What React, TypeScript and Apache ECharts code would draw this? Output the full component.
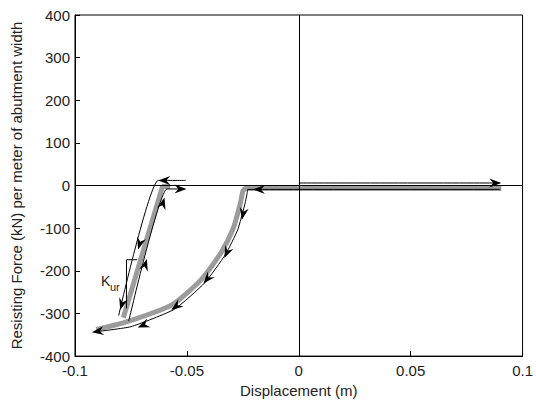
import React, { useEffect, useRef } from "react";
import * as echarts from "echarts";

// Gray backbone curve (displacement m, force kN/m)
const grayBackboneX = [0.0905, -0.0238, -0.0249, -0.0263, -0.0294, -0.0347, -0.0435, -0.0567, -0.077, -0.0905];
const grayBackboneY = [-7, -7, -12, -46, -102, -157, -220, -280, -320, -338];
// Gray unload/reload branch
const grayBranchX = [-0.0784, -0.0609, -0.0575];
const grayBranchY = [-310, -2, -2];
// Black loading path (outbound)
const blackOutX = [0, 0.089];
const blackOutY = [6, 6];
// Black return path along backbone
const blackBackX = [0.09, -0.0228, -0.023, -0.0243, -0.0273, -0.0328, -0.042, -0.0555, -0.075, -0.091];
const blackBackY = [-9, -9, -16, -48, -104, -162, -228, -290, -331, -343];
// Black branch, reloading side (right)
const blackUpX = [-0.076, -0.0589, -0.051];
const blackUpY = [-318, -8, -8];
// Black branch, unloading side (left)
const blackDownX = [-0.0505, -0.0628, -0.0805];
const blackDownY = [12, 12, -305];
// Arrowheads: tip and tail points
const arrowTipX = [0.0905, -0.0205, -0.0254, -0.0333, -0.0426, -0.057, -0.072, -0.0925, -0.0718, -0.0798, -0.0679, -0.06, -0.0628, -0.0502];
const arrowTipY = [6, -9, -80, -170, -230, -292, -333, -344, -150, -292, -172, -28, 12, -8];
const arrowTailX = [0.08, -0.01, -0.0242, -0.0293, -0.0378, -0.05, -0.065, -0.084, -0.0696, -0.0776, -0.0701, -0.0622, -0.055, -0.057];
const arrowTailY = [6, -9, -48, -125, -200, -265, -318, -338, -110, -252, -212, -68, 12, -8];
// Slope triangle for K_ur
const triX = [-0.0722, -0.077, -0.077];
const triY = [-174, -174, -288];
// Annotation text K with subscript ur
const annX = [-0.0863, -0.0822];
const annY = [-224, -239];
const annText = ["K", "ur"];
const annSize = [14, 11];

const xTicks = [-0.1, -0.05, 0, 0.05, 0.1];
const yMin = -400, yMax = 400, yStep = 100;

const zip = (xs: number[], ys: number[]) => xs.map((x, i) => [x, ys[i]]);

export default function App() {
  const ref = useRef<HTMLDivElement>(null);
  useEffect(() => {
    if (!ref.current) return;
    const chart = echarts.init(ref.current, null, { renderer: "svg" });
    const font = "Liberation Sans";
    const fmtX = (v: number) => {
      const r = Math.round(v * 100) / 100;
      return xTicks.some((t) => Math.abs(t - r) < 1e-9) ? String(r) : "";
    };
    const arrowData = arrowTipX.map((x, i) => [x, arrowTipY[i], arrowTailX[i], arrowTailY[i]]);
    const annData = annX.map((x, i) => [x, annY[i], i]);
    chart.setOption({
      animation: false,
      grid: { left: 75, right: 8, top: 15, bottom: 43, show: true, borderColor: "#000", borderWidth: 1 },
      xAxis: {
        type: "value",
        min: -0.1,
        max: 0.1,
        interval: 0.05,
        name: "Displacement (m)",
        nameLocation: "middle",
        nameGap: 26,
        nameTextStyle: { fontFamily: font, fontSize: 15, color: "#222" },
        axisLine: { onZero: false, lineStyle: { color: "#000" } },
        axisTick: { inside: true, length: 5, lineStyle: { color: "#000" } },
        axisLabel: { fontFamily: font, fontSize: 15, color: "#222", margin: 7, formatter: fmtX },
        splitLine: { show: false },
      },
      yAxis: {
        type: "value",
        min: yMin,
        max: yMax,
        interval: yStep,
        name: "Resisting Force (kN) per meter of abutment width",
        nameLocation: "middle",
        nameGap: 51,
        nameTextStyle: { fontFamily: font, fontSize: 15, color: "#222" },
        axisLine: { onZero: false, lineStyle: { color: "#000" } },
        axisTick: { inside: true, length: 5, lineStyle: { color: "#000" } },
        axisLabel: { fontFamily: font, fontSize: 15, color: "#222", margin: 5 },
        splitLine: { show: false },
      },
      series: [
        {
          type: "line",
          data: [],
          z: 1,
          markLine: {
            silent: true,
            symbol: "none",
            label: { show: false },
            lineStyle: { color: "#000", width: 1, type: "solid" },
            data: [{ xAxis: 0 }, { yAxis: 0 }],
          },
        },
        {
          type: "line",
          data: zip(grayBackboneX, grayBackboneY),
          showSymbol: false,
          smooth: 0.2,
          z: 2,
          lineStyle: { color: "#9c9c9c", width: 5 },
        },
        {
          type: "line",
          data: zip(grayBranchX, grayBranchY),
          showSymbol: false,
          z: 2,
          lineStyle: { color: "#9c9c9c", width: 5 },
        },
        ...[
          [blackOutX, blackOutY],
          [blackBackX, blackBackY],
          [blackUpX, blackUpY],
          [blackDownX, blackDownY],
        ].map(([xs, ys]) => ({
          type: "line",
          data: zip(xs, ys),
          showSymbol: false,
          smooth: 0.15,
          z: 3,
          lineStyle: { color: "#000", width: 1 },
        })),
        {
          type: "line",
          data: zip(triX, triY),
          showSymbol: false,
          z: 3,
          lineStyle: { color: "#000", width: 1 },
        },
        {
          type: "custom",
          z: 4,
          silent: true,
          data: annData,
          renderItem: (_params: any, api: any) => {
            const p = api.coord([api.value(0), api.value(1)]);
            const i = api.value(2);
            return {
              type: "text",
              x: p[0],
              y: p[1],
              style: {
                text: annText[i],
                fill: "#222",
                font: `${annSize[i]}px "${font}"`,
                align: "center",
                verticalAlign: "middle",
              },
            };
          },
        },
        {
          type: "custom",
          z: 5,
          data: arrowData,
          renderItem: (_params: any, api: any) => {
            const tip = api.coord([api.value(0), api.value(1)]);
            const tail = api.coord([api.value(2), api.value(3)]);
            const ang = Math.atan2(tip[1] - tail[1], tip[0] - tail[0]);
            const ux = Math.cos(ang), uy = Math.sin(ang);
            const px = -uy, py = ux;
            const L = 12, W = 4.5, N = 8;
            const points = [
              [tip[0], tip[1]],
              [tip[0] - L * ux + W * px, tip[1] - L * uy + W * py],
              [tip[0] - N * ux, tip[1] - N * uy],
              [tip[0] - L * ux - W * px, tip[1] - L * uy - W * py],
            ];
            return { type: "polygon", shape: { points }, style: { fill: "#000" } };
          },
        },
      ],
    });
    return () => chart.dispose();
  }, []);
  return <div ref={ref} style={{ width: 536, height: 403, position: "absolute", left: 0, top: 0 }} />;
}
